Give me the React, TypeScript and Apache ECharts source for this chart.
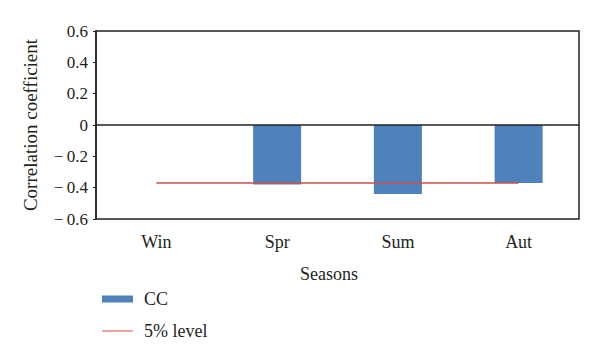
import React, { useEffect, useRef } from "react";
import * as echarts from "echarts";

const categories = ["Win", "Spr", "Sum", "Aut"];
const ccValues = [0, -0.38, -0.44, -0.37];
const levelValues = [-0.37, -0.37, -0.37, -0.37];
const yTicks = { min: -0.6, max: 0.6, interval: 0.2 };

const FONT = "Liberation Serif";
const TEXT = "#231f20";

export default function App() {
  const ref = useRef<HTMLDivElement>(null);
  useEffect(() => {
    if (!ref.current) return;
    const chart = echarts.init(ref.current, undefined, { renderer: "svg" });
    const labelStyle = { fontFamily: FONT, fontSize: 17, color: TEXT };
    chart.setOption({
      animation: false,
      backgroundColor: "#ffffff",
      textStyle: { fontFamily: FONT, color: TEXT },
      grid: {
        left: 96,
        right: 21,
        top: 31,
        bottom: 142,
        show: true,
        borderColor: "#222",
        borderWidth: 1.5,
        containLabel: false,
      },
      legend: {
        orient: "vertical",
        left: 97,
        top: 285,
        itemWidth: 31,
        itemHeight: 7,
        itemGap: 14,
        textStyle: {
          fontFamily: FONT,
          fontSize: 18,
          color: TEXT,
          padding: [0, 0, 0, 6],
        },
        data: [
          { name: "CC", icon: "rect" },
          {
            name: "5% level",
            icon: "path://M0,0H30V1H0Z",
            itemStyle: { color: "#d0504d" },
          },
        ],
      },
      xAxis: {
        type: "category",
        data: categories,
        position: "bottom",
        axisLine: { show: false, onZero: false },
        axisTick: { show: false },
        axisLabel: {
          fontFamily: FONT,
          fontSize: 18,
          color: TEXT,
          margin: 14,
        },
      },
      yAxis: {
        type: "value",
        min: yTicks.min,
        max: yTicks.max,
        interval: yTicks.interval,
        name: "Correlation coefficient",
        nameLocation: "middle",
        nameGap: 56,
        nameTextStyle: { fontFamily: FONT, fontSize: 19, color: TEXT },
        axisLine: {
          show: true,
          onZero: false,
          lineStyle: { color: "#222", width: 1.5 },
        },
        axisTick: { show: true, length: 3, lineStyle: { color: "#222" } },
        splitLine: { show: false },
        axisLabel: {
          show: true,
          ...labelStyle,
          margin: 8,
          rich: { n: { ...labelStyle } },
          formatter: (v: number) => {
            const r = Math.round(v * 10) / 10;
            let s: string;
            if (r === 0) s = "0";
            else if (r < 0) s = "\u2212\u2009" + Math.abs(r).toFixed(1);
            else s = r.toFixed(1);
            return "{n|" + s + "}";
          },
        },
      },
      series: [
        {
          name: "CC",
          type: "bar",
          data: ccValues,
          barWidth: 48,
          itemStyle: { color: "#4f81bd" },
          markLine: {
            silent: true,
            symbol: "none",
            label: { show: false },
            lineStyle: { color: "#222", width: 1.5, type: "solid" },
            data: [{ yAxis: 0 }],
          },
        },
        {
          name: "5% level",
          type: "line",
          data: levelValues,
          symbol: "none",
          lineStyle: { color: "#d0504d", width: 1.5 },
          itemStyle: { color: "#d0504d" },
        },
      ],
      graphic: [
        {
          type: "text",
          x: 329,
          y: 274,
          style: {
            text: "Seasons",
            fontFamily: FONT,
            fontSize: 18,
            fill: TEXT,
            align: "center",
            verticalAlign: "middle",
          },
        },
      ],
    });
    return () => chart.dispose();
  }, []);
  return (
    <div
      ref={ref}
      style={{ position: "fixed", left: 0, top: 0, width: 600, height: 361 }}
    />
  );
}
